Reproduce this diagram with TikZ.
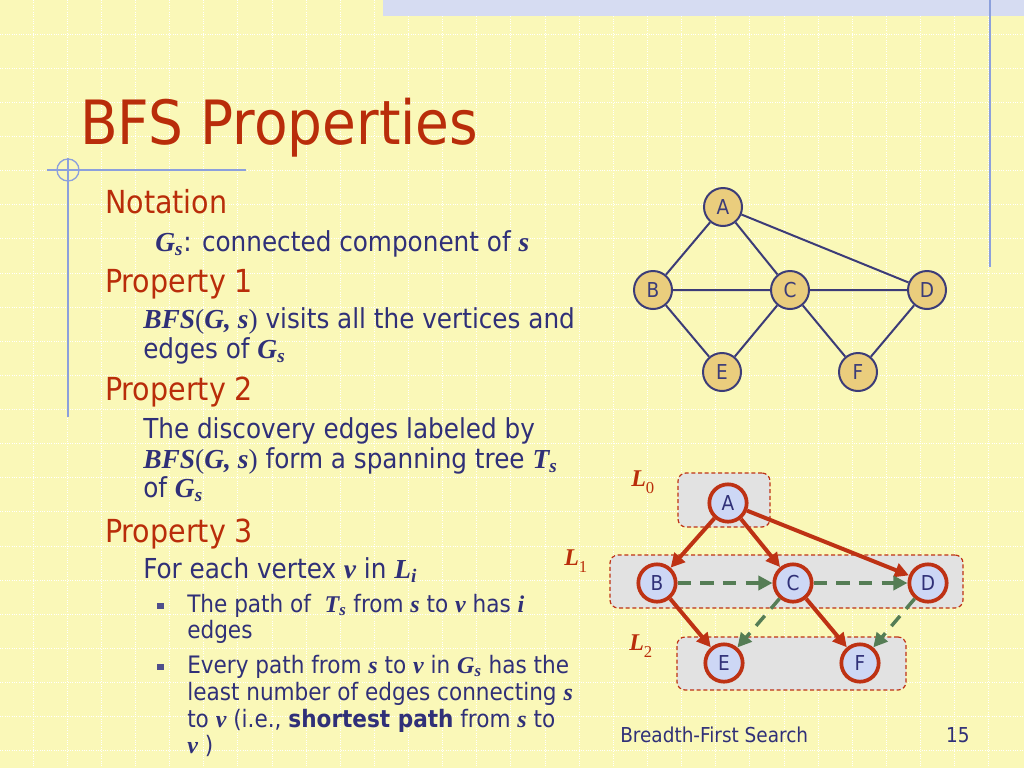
\documentclass[tikz,border=0pt]{standalone}
\usepackage{fontspec}
\setmainfont{DejaVu Sans Condensed}
\newfontfamily\tms{Liberation Serif}
\usetikzlibrary{arrows.meta}

\definecolor{slidebg}{RGB}{250,248,184}
\definecolor{titlered}{RGB}{185,45,10}
\definecolor{navy}{RGB}{48,48,120}
\definecolor{rulebl}{RGB}{140,160,220}
\definecolor{bannerbl}{RGB}{214,220,242}
\definecolor{vtxtan}{RGB}{234,205,125}
\definecolor{vtxedge}{RGB}{60,60,120}
\definecolor{vtxblue}{RGB}{205,215,245}
\definecolor{treered}{RGB}{190,50,20}
\definecolor{crossgreen}{RGB}{85,125,85}
\definecolor{boxgray}{RGB}{226,226,226}

\newcommand{\vb}[1]{{\tms\bfseries\itshape #1}}
\newcommand{\vsub}[2]{\vb{#1}\textsubscript{\vb{#2}}}
\newcommand{\bfsgs}{\vb{BFS}{\tms(}\vb{G, s}{\tms)}}
\newcommand{\lvl}[1]{\vb{L}{\tms\fontsize{12.5}{14}\selectfont\raisebox{-5.5pt}{#1}}}

\tikzset{
  gridline/.style={white,densely dotted,line width=0.75pt},
  heading/.style={anchor=base west,inner sep=0pt,text=titlered,font=\fontsize{23.8}{28}\selectfont},
  itemtxt/.style={anchor=base west,inner sep=0pt,text=navy,font=\fontsize{20.6}{25}\selectfont},
  subtxt/.style={anchor=base west,inner sep=0pt,text=navy,font=\fontsize{18}{22}\selectfont},
  footer/.style={anchor=base west,inner sep=0pt,text=navy,font=\fontsize{15.4}{18}\selectfont},
  bulletsq/.style={fill=navy!85,minimum size=5pt,inner sep=0pt},
  gvtx/.style={circle,draw=vtxedge,line width=1.5pt,fill=vtxtan,minimum size=28.5pt,inner sep=0pt,text=vtxedge,font=\fontsize{15.4}{18}\selectfont},
  gedge/.style={vtxedge,line width=1.5pt},
  tvtx/.style={circle,draw=treered,line width=2.8pt,fill=vtxblue,minimum size=28pt,inner sep=0pt,text=navy,font=\fontsize{15.4}{18}\selectfont},
  tedge/.style={treered,line width=3pt,->},
  cedge/.style={crossgreen,line width=2.6pt,dash pattern=on 10pt off 7pt,->},
  lvlbox/.style={draw=treered,fill=boxgray,line width=0.9pt,dash pattern=on 3pt off 2pt,rounded corners=6pt,inner sep=0pt},
  lvllabel/.style={anchor=base west,inner sep=0pt,text=titlered,font=\fontsize{18}{20}\selectfont},
  >={Triangle[length=10.5pt,width=10.5pt]}
}

\begin{document}
\begin{tikzpicture}[x=0.75pt,y=-0.75pt]
  \useasboundingbox (0,0) rectangle (1024,768);
  \fill [slidebg] (0,0) rectangle (1024,768);

  % background grid
  \foreach \k in {1,...,29} \draw [gridline] ({\k*34.13-1},0) -- ({\k*34.13-1},768);
  \foreach \k in {1,...,22} \draw [gridline] (0,{\k*34.13}) -- (1024,{\k*34.13});

  \fill [bannerbl] (383,0) rectangle (1024,16);
  \draw [rulebl,line width=1.5pt] (990,0) -- (990,267);
  \draw [rulebl,line width=1.2pt] (47,170) -- (246,170);
  \draw [rulebl,line width=1.2pt] (68,158) -- (68,417);
  \draw [rulebl,line width=1pt] (68,170) circle (8.25pt);

  \node [anchor=base west,inner sep=0pt,text=titlered,font=\fontsize{45.8}{50}\selectfont] (title) at (80,144) {BFS Properties};

  \node [heading] (notation) at (105,213) {Notation};
  \node [itemtxt] (gsdef) at (155,251) {\vsub{G}{s}: connected component of \vb{s}};
  \node [heading] (prop1) at (105,292) {Property 1};
  \node [itemtxt] (p1a) at (143,328) {\bfsgs{} visits all the vertices and};
  \node [itemtxt] (p1b) at (143,358) {edges of \vsub{G}{s}};
  \node [heading] (prop2) at (105,400) {Property 2};
  \node [itemtxt] (p2a) at (143,438) {The discovery edges labeled by};
  \node [itemtxt] (p2b) at (143,468) {\bfsgs{} form a spanning tree \vsub{T}{s}};
  \node [itemtxt] (p2c) at (143,497) {of \vsub{G}{s}};
  \node [heading] (prop3) at (105,542) {Property 3};
  \node [itemtxt] (p3a) at (143,578) {For each vertex \vb{v} in \vsub{L}{i}};
  \node [bulletsq] (bul1) at (160.5,606) {};
  \node [subtxt] (p3b) at (187,612) {The path of \ \vsub{T}{s} from \vb{s} to \vb{v} has \vb{i}};
  \node [subtxt] (p3c) at (187,638) {edges};
  \node [bulletsq] (bul2) at (160.5,667) {};
  \node [subtxt] (p3d) at (187,673) {Every path from \vb{s} to \vb{v} in \vsub{G}{s} has the};
  \node [subtxt] (p3e) at (187,700) {least number of edges connecting \vb{s}};
  \node [subtxt] (p3f) at (187,727) {to \vb{v} (i.e., \textbf{shortest path} from \vb{s} to};
  \node [subtxt] (p3g) at (187,753) {\vb{v} )};

  % the graph
  \node [gvtx] (a) at (723,207) {A};
  \node [gvtx] (b) at (653,290) {B};
  \node [gvtx] (c) at (790,290) {C};
  \node [gvtx] (d) at (927,290) {D};
  \node [gvtx] (e) at (722,372) {E};
  \node [gvtx] (f) at (858,372) {F};
  \draw [gedge] (a) -- (b) (a) -- (c) (a) -- (d) (b) -- (c) (c) -- (d);
  \draw [gedge] (b) -- (e) (c) -- (e) (c) -- (f) (d) -- (f);

  % levels of the search
  \node [lvlbox,minimum width=69pt,minimum height=40.5pt] (box0) at (724,500) {};
  \node [lvlbox,minimum width=264.75pt,minimum height=39.75pt] (box1) at (786.5,581.5) {};
  \node [lvlbox,minimum width=171.75pt,minimum height=39.75pt] (box2) at (791.5,663.5) {};
  \node [lvllabel] (lab0) at (631,486) {\lvl{0}};
  \node [lvllabel] (lab1) at (564,565) {\lvl{1}};
  \node [lvllabel] (lab2) at (629,650) {\lvl{2}};

  \node [tvtx] (ta) at (728,503) {A};
  \node [tvtx] (tb) at (657,583) {B};
  \node [tvtx] (tc) at (793,583) {C};
  \node [tvtx] (td) at (928,583) {D};
  \node [tvtx] (te) at (724,663) {E};
  \node [tvtx] (tf) at (860,663) {F};

  \draw [tedge] (ta) -- (tb);
  \draw [tedge] (ta) -- (tc);
  \draw [tedge] (ta) -- (td);
  \draw [tedge] (tb) -- (te);
  \draw [tedge] (tc) -- (tf);
  \draw [cedge] (tb) -- (tc);
  \draw [cedge] (tc) -- (td);
  \draw [cedge] (tc) -- (te);
  \draw [cedge] (td) -- (tf);

  \node [footer] (foot) at (620,742) {Breadth-First Search};
  \node [footer,anchor=base east] (pgno) at (970,742) {15};
\end{tikzpicture}
\end{document}
